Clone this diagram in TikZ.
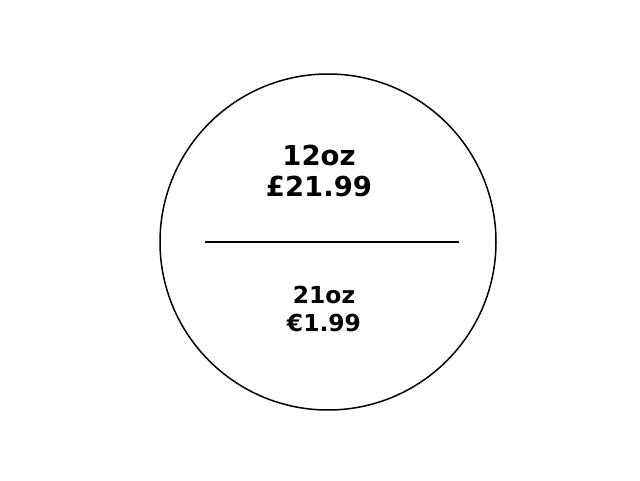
\documentclass[tikz,border=0pt]{standalone}
\usepackage{fontspec}
\setmainfont{DejaVu Sans}
\begin{document}
\begin{tikzpicture}[x=1pt,y=1pt,
  lbl/.style={align=center,font=\bfseries,inner sep=0pt}]
\useasboundingbox (0,0) rectangle (640,480);
\node[draw,circle,line width=1.5pt,minimum size=336pt,inner sep=0pt] (c) at (328,238) {};
\coordinate (l) at (205,238);
\coordinate (r) at (459,238);
\draw[line width=1.5pt] (l) -- (r);
\node[lbl,font=\bfseries\fontsize{27.5}{31}\selectfont] (top) at (319,309) {12oz\\£21.99};
\node[lbl,font=\bfseries\fontsize{23.4}{28}\selectfont] (bot) at (324,171) {21oz\\€1.99};
\end{tikzpicture}
\end{document}
